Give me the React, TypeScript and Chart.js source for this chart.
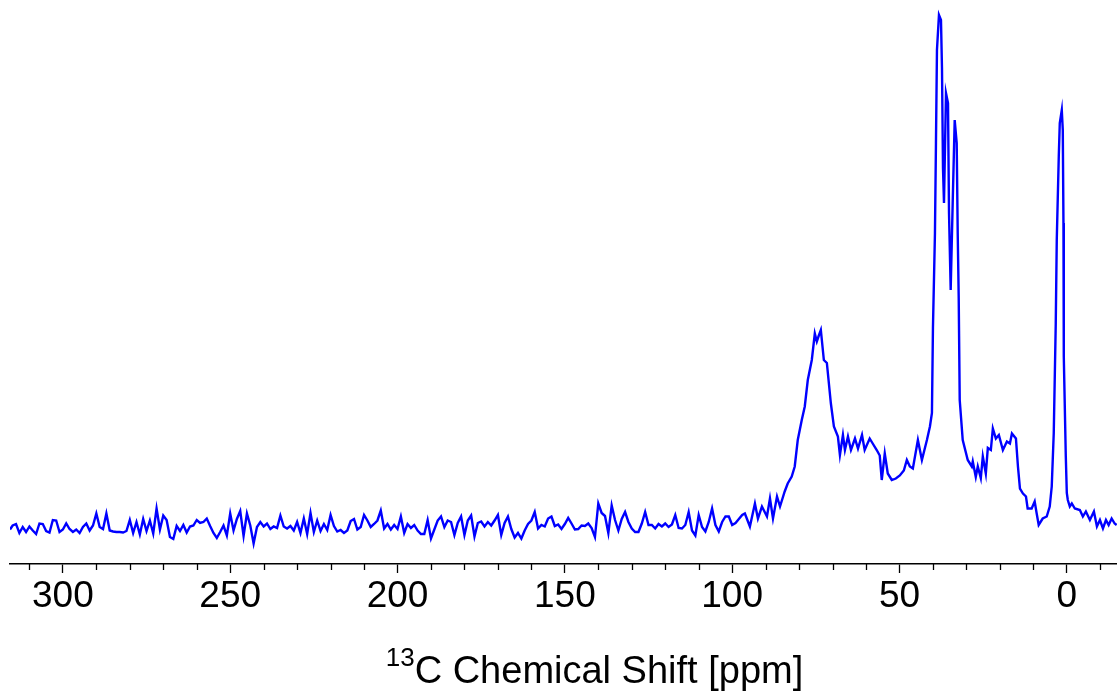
import React, { useEffect, useRef } from 'react';
import { Chart, registerables } from 'chart.js';

Chart.register(...registerables);

// Chemical shift (ppm) of each sample of the spectrum
const PPM: number[] = [
  315.8, 315, 314, 313, 312, 311, 310, 309, 308, 307, 306, 305, 304, 303, 302, 301,
  300, 299, 298, 297, 296, 295, 294, 293, 292, 291, 290, 289, 288, 287, 286, 285,
  284, 283, 282, 281, 280, 279, 278, 277, 276, 275, 274, 273, 272, 271, 270, 269,
  268, 267, 266, 265, 264, 263, 262, 261, 260, 259, 258, 257, 256, 255, 254, 253,
  252, 251, 250, 249, 248, 247, 246, 245, 244, 243, 242, 241, 240, 239, 238, 237,
  236, 235, 234, 233, 232, 231, 230, 229, 228, 227, 226, 225, 224, 223, 222, 221,
  220, 219, 218, 217, 216, 215, 214, 213, 212, 211, 210, 209, 208, 207, 206, 205,
  204, 203, 202, 201, 200, 199, 198, 197, 196, 195, 194, 193, 192, 191, 190, 189,
  188, 187, 186, 185, 184, 183, 182, 181, 180, 179, 178, 177, 176, 175, 174, 173,
  172, 171, 170, 169, 168, 167, 166, 165, 164, 163, 162, 161, 160, 159, 158, 157,
  156, 155, 154, 153, 152, 151, 150, 149, 148, 147, 146, 145, 144, 143, 142, 141,
  140, 139, 138, 137, 136, 135, 134, 133, 132, 131, 130, 129, 128, 127, 126, 125,
  124, 123, 122, 121, 120, 119, 118, 117, 116, 115, 114, 113, 112, 111, 110, 109,
  108, 107, 106, 105, 104, 103, 102, 101, 100, 99, 98, 97,
  96.2, 94.7, 93.2, 92.3, 91.1, 89.6, 88.7, 87.8, 86.6, 85.7, 84.3, 83.4, 82.2, 81.3,
  80.4, 79.2, 78.3, 77.4, 76.2, 75.3, 74.7, 74.1, 73.5, 72.6, 71.7, 70.5, 69.6, 68.4,
  67.8, 66.9, 66.3, 65.4, 64.5, 63.3, 62.4, 61.2, 60.4, 58.9, 58.0, 56.8, 55.9, 55.3,
  54.4, 53.5, 52.3, 51.1, 49.9, 48.7, 47.8, 46.9, 46.0, 44.5, 43.3, 41.8, 40.9, 40.3,
  40.0, 39.4, 39.1, 38.8, 38.2, 37.6, 37.3, 37.0, 36.7, 36.1, 35.5, 35.2, 34.7, 34.1,
  33.5, 32.9, 32.6, 32.3, 32.0, 31.1, 29.6, 28.4, 28.1, 27.2, 26.6, 25.7, 25.1, 24.2,
  23.6, 22.7, 22.1, 21.2, 20.3, 19.1, 17.9, 17.0, 16.4, 15.2, 14.6, 14.0, 13.1, 12.2,
  11.7, 10.5, 9.6, 9.0, 8.4, 7.2, 6.0, 5.1, 4.5, 3.9, 3.3, 3.0, 2.4, 2.1, 1.5, 1.2,
  1.0, 0.9, 0.3, 0.0, -0.3, -0.9, -1.5, -2.4, -3.9, -4.8, -5.7, -6.9, -8.1, -9.0,
  -9.9, -10.8, -11.7, -12.5, -13.4, -14.3, -14.9,
];

// Signal intensity (a.u.) at each PPM sample
const INTENSITY: number[] = [
  -0.3, 0.5, 0.8, -1.0, 0.2, -0.8, 0.3, -0.5, -1.2, 0.9, 0.8, -0.6, -0.9, 1.6, 1.5, -0.8,
  -0.3, 0.9, -0.2, -0.8, -0.3, -1.0, 0.2, 0.9, -0.5, 0.5, 2.9, 0.2, -0.2, 2.9, -0.5, -0.7,
  -0.8, -0.8, -0.9, -0.6, 1.6, -1.0, 1.2, -1.3, 1.8, -0.6, 1.5, -1.1, 3.9, -0.3, 2.5, 1.6,
  -1.8, -2.2, 0.4, -0.6, 0.6, -0.9, 0.3, 0.5, 1.6, 1.0, 1.2, 1.9, 0.4, -1.0, -2.0, -0.8,
  0.5, -1.5, 2.9, -0.5, 1.8, 3.4, -1.6, 2.9, 0.5, -3.1, 0.2, 1.2, 0.3, 0.9, -0.2, 0.3,
  0.0, 2.5, 0.3, -0.1, 0.4, -0.5, 1.2, -1.0, 1.9, -1.2, 3.0, -0.8, 1.5, -0.6, 0.8, -0.4,
  2.6, 0.4, -0.7, -0.4, -1.0, -0.5, 1.4, 1.8, -0.3, 0.2, 2.6, 1.5, 0.2, 0.8, 1.5, 3.5,
  -0.1, 0.8, -0.3, 0.6, -0.2, 2.3, -1.0, 0.8, 0.0, 0.6, -0.5, -1.2, -1.2, 1.6, -2.1, -0.3,
  1.5, 2.3, 0.2, 1.5, 1.2, -1.4, 1.0, 2.3, -1.4, 1.5, 2.5, -1.7, 1.0, 1.3, 0.3, 1.2,
  0.5, 1.5, 2.6, -1.4, 1.0, 2.3, -0.2, -1.9, -1.0, -2.1, -0.5, 0.8, 1.5, 3.2, -0.1, 0.6,
  0.3, 1.9, 2.3, 0.4, 0.7, -0.2, 0.8, 2.0, 0.9, -0.3, -0.2, 0.5, 0.4, 0.9, 0.0, -1.8,
  4.9, 3.0, 2.4, -1.0, 4.5, 1.6, -0.5, 1.8, 3.2, 1.2, -0.1, -0.8, -0.8, 0.9, 3.2, 0.6,
  0.6, -0.1, 0.8, 0.3, 0.9, 0.2, 0.7, 2.6, 0.0, -0.1, 0.6, 3.2, -0.5, -1.5, 2.6, 0.2,
  -0.7, 1.2, 3.9, 0.6, -0.7, 1.2, 2.3, 2.3, 0.6, 1.0, 1.8, 2.6,
  2.9, 0.3, 4.9, 1.9, 4.3, 2.3, 5.9, 1.9, 6.3, 4.3, 7.3, 8.9, 10.3, 12.3,
  17.6, 21.6, 24.3, 29.6, 33.6, 38.9, 37.3, 38.5, 39.6, 33.6, 33.0, 24.9, 20.3, 18.3,
  14.6, 18.6, 15.6, 18.3, 15.6, 17.9, 15.9, 18.6, 15.6, 17.9, 16.9, 15.6, 14.5, 9.6,
  14.9, 10.9, 9.6, 9.9, 10.5, 11.5, 13.6, 12.3, 11.9, 17.6, 13.6, 17.6, 20.3, 23.0,
  40.0, 59.0, 77.0, 95.6, 102.6, 101.6, 92.0, 72.0, 65.0, 87.0, 85.0, 63.0, 47.6, 65.0,
  81.6, 77.0, 59.0, 46.0, 25.6, 17.6, 13.6, 12.3, 13.3, 10.2, 12.3, 10.0, 14.3, 10.9,
  16.0, 15.6, 19.9, 17.9, 18.6, 15.6, 17.3, 16.9, 18.9, 17.9, 12.3, 7.9, 6.9, 6.3,
  3.9, 3.9, 5.3, 2.9, 0.6, 1.9, 2.3, 4.3, 8.3, 19.0, 41.0, 57.6, 74.3, 81.0, 83.6, 79.6,
  61.0, 34.3, 14.3, 7.0, 5.6, 4.3, 4.9, 3.9, 3.6, 2.3, 3.3, 1.6, 3.3, 0.3,
  1.6, -0.1, 1.6, 0.6, 1.9, 0.9, 0.6,
];

const TICK_VALUES: number[] = [310, 300, 290, 280, 270, 260, 250, 240, 230, 220, 210, 200, 190, 180, 170, 160, 150, 140, 130, 120, 110, 100, 90, 80, 70, 60, 50, 40, 30, 20, 10, 0, -10];
const MAJOR_TICKS: number[] = [300, 250, 200, 150, 100, 50, 0];
const X_RANGE: number[] = [-15, 315.8];
const Y_RANGE: number[] = [-7.2, 104];
const TITLE_SUP = '13';
const TITLE_MAIN = 'C Chemical Shift [ppm]';

const FONT_FAMILY = '"Liberation Sans", Arial, Helvetica, sans-serif';

const extrasPlugin = {
  id: 'extras',
  afterDraw(chart: any) {
    const { ctx, chartArea, scales } = chart;
    const x = scales.x;
    ctx.save();
    ctx.strokeStyle = '#000000';
    ctx.lineWidth = 1.3;
    TICK_VALUES.forEach((v) => {
      if (MAJOR_TICKS.includes(v)) return;
      const px = Math.round(x.getPixelForValue(v)) + 0.5;
      ctx.beginPath();
      ctx.moveTo(px, chartArea.bottom);
      ctx.lineTo(px, chartArea.bottom + 6);
      ctx.stroke();
    });
    ctx.fillStyle = '#000000';
    ctx.textBaseline = 'alphabetic';
    ctx.textAlign = 'left';
    ctx.font = `38px ${FONT_FAMILY}`;
    const mainW = ctx.measureText(TITLE_MAIN).width;
    ctx.font = `26px ${FONT_FAMILY}`;
    const supW = ctx.measureText(TITLE_SUP).width;
    const total = mainW + supW;
    const cx = (chartArea.left + chartArea.right) / 2 + 31;
    const startX = cx - total / 2;
    const base = chartArea.bottom + 119;
    ctx.fillText(TITLE_SUP, startX, base - 17);
    ctx.font = `38px ${FONT_FAMILY}`;
    ctx.fillText(TITLE_MAIN, startX + supW, base);
    ctx.restore();
  },
};

export default function App() {
  const canvasRef = useRef<HTMLCanvasElement | null>(null);

  useEffect(() => {
    const canvas = canvasRef.current;
    if (!canvas) return;
    const points = PPM.map((p, i) => ({ x: p, y: INTENSITY[i] }));
    const chart = new Chart(canvas, {
      type: 'line',
      data: {
        datasets: [
          {
            data: points,
            borderColor: '#0000ff',
            borderWidth: 2.4,
            pointRadius: 0,
            tension: 0,
            fill: false,
          },
        ],
      },
      options: {
        animation: false,
        responsive: false,
        devicePixelRatio: 1,
        layout: { padding: { left: 10, right: 0, top: 8, bottom: 80 } },
        plugins: { legend: { display: false }, tooltip: { enabled: false }, title: { display: false } },
        scales: {
          x: {
            type: 'linear',
            reverse: true,
            min: X_RANGE[0],
            max: X_RANGE[1],
            afterBuildTicks: (scale: any) => {
              scale.ticks = TICK_VALUES.map((v) => ({ value: v }));
            },
            afterFit: (scale: any) => {
              scale.height = 52;
            },
            grid: {
              drawOnChartArea: false,
              drawTicks: true,
              tickLength: 9,
              tickWidth: 1.3,
              tickColor: (ctx: any) => (MAJOR_TICKS.includes(ctx.tick?.value) ? '#000000' : 'rgba(0,0,0,0)'),
            },
            border: { display: true, color: '#000000', width: 1.5 },
            ticks: {
              autoSkip: false,
              maxRotation: 0,
              minRotation: 0,
              padding: 2,
              color: '#000000',
              font: { size: 37, family: FONT_FAMILY },
              callback: (value: any) => (MAJOR_TICKS.includes(Number(value)) ? String(value) : ''),
            },
          },
          y: {
            type: 'linear',
            display: false,
            min: Y_RANGE[0],
            max: Y_RANGE[1],
          },
        },
      },
      plugins: [extrasPlugin],
    });
    return () => chart.destroy();
  }, []);

  return (
    <div style={{ position: 'absolute', left: 0, top: 0, width: 1117, height: 696, background: '#ffffff' }}>
      <canvas ref={canvasRef} width={1117} height={696} style={{ display: 'block' }} />
    </div>
  );
}
